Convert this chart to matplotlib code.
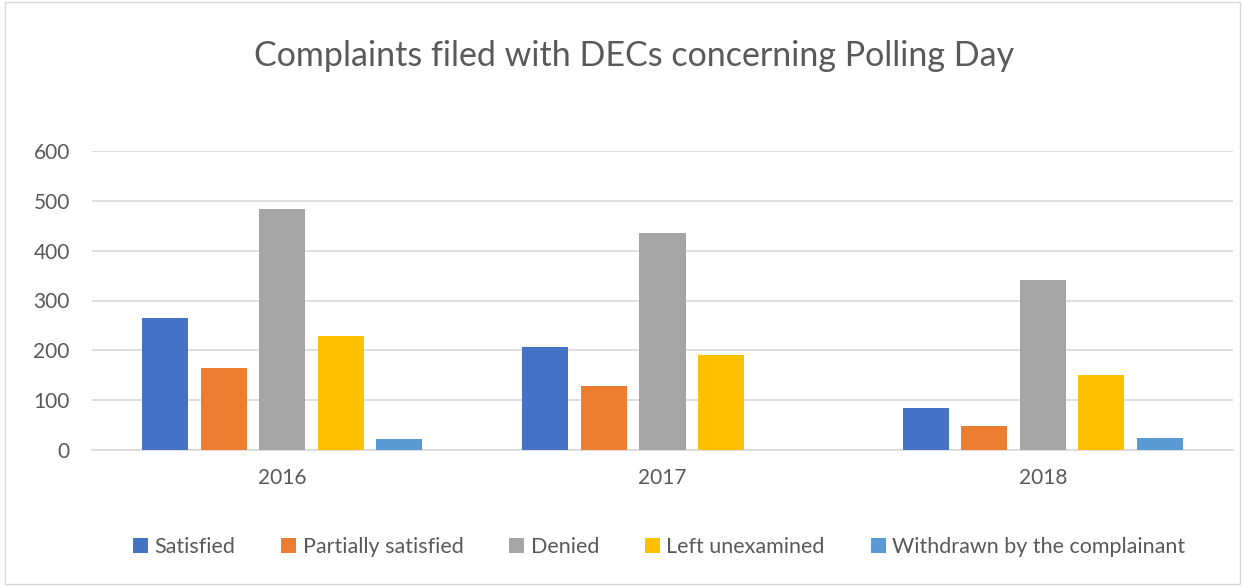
import numpy as np
import matplotlib.pyplot as plt
from matplotlib.patches import Rectangle

plt.rcParams['font.family'] = ['Lato', 'DejaVu Sans']

years = ['2016', '2017', '2018']
series_names = ['Satisfied', 'Partially satisfied', 'Denied',
                'Left unexamined', 'Withdrawn by the complainant']
satisfied = [265, 206, 85]
partially = [165, 128, 49]
denied = [484, 436, 341]
unexamined = [228, 190, 151]
withdrawn = [23, 1, 24]
colors = ['#4472C4', '#ED7D31', '#A5A5A5', '#FFC000', '#5B9BD5']

values = [satisfied, partially, denied, unexamined, withdrawn]
text_col = '#595959'

fig = plt.figure(figsize=(12.45, 5.86), dpi=100)
ax = fig.add_axes([92 / 1245, 1 - 450 / 586, (1233 - 92) / 1245, (450 - 151) / 586])

x = np.arange(len(years))
width = 0.121
step = 0.154
for i, (name, vals) in enumerate(zip(series_names, values)):
    ax.bar(x + (i - 2) * step, vals, width, color=colors[i], label=name, zorder=3)

ax.set_xlim(-0.5, 2.5)
ax.set_ylim(0, 600)
ax.set_yticks(range(0, 601, 100))
ax.set_xticks(x)
ax.set_xticklabels(years)
ax.grid(axis='y', color='#D9D9D9', linewidth=1.2, zorder=0)
for s in ['top', 'right', 'left']:
    ax.spines[s].set_visible(False)
ax.spines['bottom'].set_color('#D9D9D9')
ax.spines['bottom'].set_linewidth(1.2)
ax.tick_params(length=0, labelsize=15, colors=text_col)
ax.tick_params(axis='x', pad=13)
ax.tick_params(axis='y', pad=16)

fig.text(634 / 1245, 1 - 56 / 586, 'Complaints filed with DECs concerning Polling Day',
         ha='center', va='center', fontsize=24.5, color=text_col)

fig.legend(loc='center', bbox_to_anchor=(659 / 1245, 1 - 547 / 586), ncol=5, frameon=False,
           fontsize=15.5, handlelength=0.7, handleheight=0.7, columnspacing=2.13,
           handletextpad=0.3, labelcolor=text_col)

# chart border
fig.patches.append(Rectangle((0.004, 0.004), 0.992, 0.992, transform=fig.transFigure,
                             fill=False, edgecolor='#D9D9D9', linewidth=1))

fig.savefig('out.png', dpi=100)
